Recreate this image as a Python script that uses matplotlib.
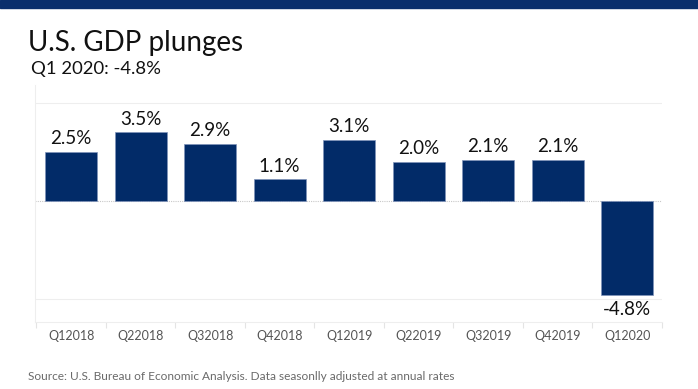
import matplotlib.pyplot as plt
import numpy as np

quarters = ['Q12018', 'Q22018', 'Q32018', 'Q42018', 'Q12019',
            'Q22019', 'Q32019', 'Q42019', 'Q12020']
gdp = [2.5, 3.5, 2.9, 1.1, 3.1, 2.0, 2.1, 2.1, -4.8]
labels = ['2.5%', '3.5%', '2.9%', '1.1%', '3.1%', '2.0%', '2.1%', '2.1%', '-4.8%']

navy = '#022b68'
plt.rcParams['font.family'] = ['Lato', 'DejaVu Sans']

fig = plt.figure(figsize=(6.98, 3.89), dpi=100)

# top band
fig.patches.append(plt.Rectangle((0, 1 - 8 / 389), 1, 8 / 389, transform=fig.transFigure,
                                 color='#0a2f6c', zorder=0))

fig.text(28 / 698, 1 - 51 / 389, 'U.S. GDP plunges', fontsize=20, color='#111111')
fig.text(31 / 698, 1 - 74 / 389, 'Q1 2020: -4.8%', fontsize=13.3, color='#111111')
fig.text(28 / 698, 1 - 380 / 389,
         'Source: U.S. Bureau of Economic Analysis. Data seasonlly adjusted at annual rates',
         fontsize=8.6, color='#6a6a6a')

ax = fig.add_axes([35 / 698, 1 - 322 / 389, 627 / 698, 237 / 389])
x = np.arange(len(quarters))
ax.bar(x, gdp, width=0.75, color=navy, edgecolor='#7f93ba', linewidth=0.5, zorder=3)

for xi, v, lab in zip(x, gdp, labels):
    if v >= 0:
        ax.annotate(lab, (xi, v), xytext=(0, 3.5), textcoords='offset points',
                    ha='center', va='bottom', fontsize=13.5, color='#111111')
    else:
        ax.annotate(lab, (xi, v), xytext=(0, -4), textcoords='offset points',
                    ha='center', va='top', fontsize=13.5, color='#111111')

ax.set_xlim(-0.52, 8.5)
ax.set_ylim(-6.17, 5.92)

ax.axhline(0, color='#c8c8c8', linestyle=(0, (1, 1)), linewidth=0.8, zorder=2)
for gy in [5, -5]:
    ax.axhline(gy, color='#eeeeee', linewidth=0.8, zorder=1)

ax.set_xticks(x)
ax.set_xticklabels(quarters, fontsize=9, color='#555555')
ax.tick_params(axis='x', which='major', length=0, pad=6)
ax.set_xticks(np.arange(-0.5, 8.6, 1), minor=True)
ax.tick_params(axis='x', which='minor', length=4, color='#e4e4e4', width=0.8)
ax.set_yticks([])

for s in ['top', 'right']:
    ax.spines[s].set_visible(False)
ax.spines['left'].set_color('#eeeeee')
ax.spines['bottom'].set_color('#eeeeee')

fig.savefig('out.png', dpi=100)
